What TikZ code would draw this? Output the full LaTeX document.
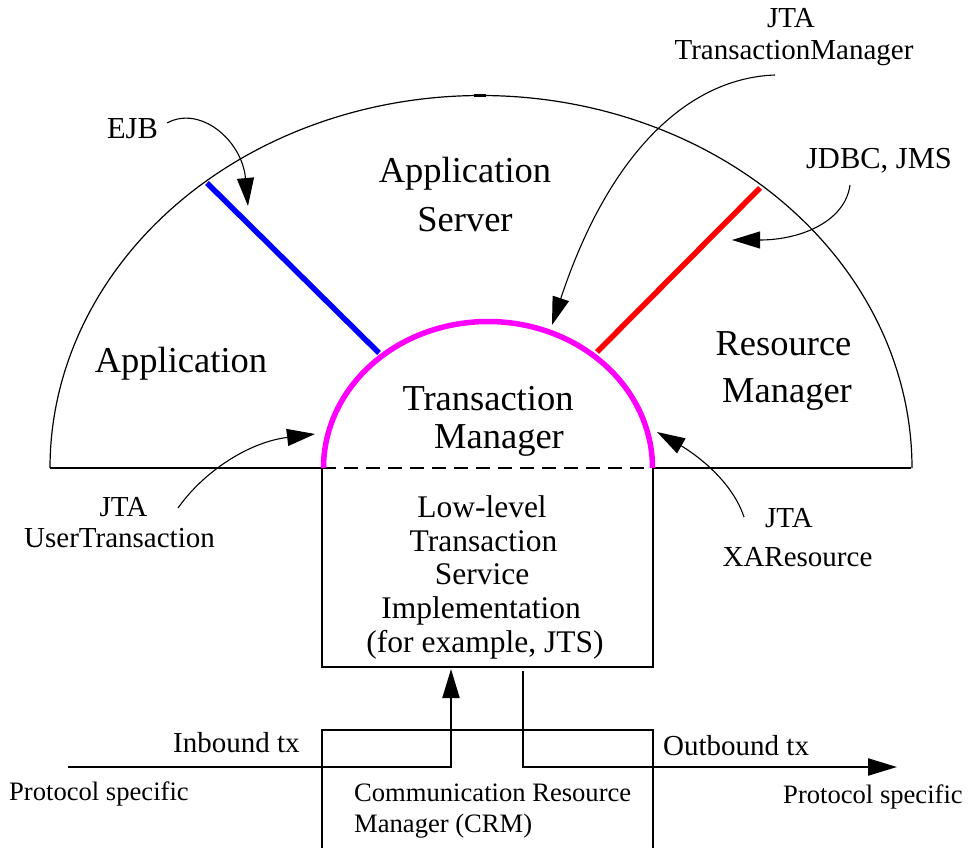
\documentclass[tikz,border=0pt]{standalone}
\usepackage{fontspec}
\setmainfont{Liberation Serif}
\usetikzlibrary{arrows.meta}
\definecolor{tmmag}{RGB}{255,0,255}
\definecolor{ejbblue}{RGB}{0,0,255}
\definecolor{rmred}{RGB}{255,0,0}
\begin{document}
\begin{tikzpicture}[x=1pt,y=-1pt,
  txt/.style={inner sep=0pt, anchor=base},
  big/.style={txt, font=\fontsize{36.5}{40}\selectfont},
  med/.style={txt, font=\fontsize{30.5}{34}\selectfont},
  lab/.style={txt, font=\fontsize{29}{33}\selectfont},
  boxt/.style={txt, font=\fontsize{31.5}{34}\selectfont},
  sm/.style={txt, anchor=base west, font=\fontsize{26.6}{30}\selectfont},
  thinline/.style={line width=1.2pt},
  thickline/.style={line width=2.2pt},
  arr/.style={line width=1.1pt, -{Triangle[length=28pt,width=17pt]}},
  barr/.style={line width=2.2pt, -{Triangle[length=29pt,width=17pt]}},
  band/.style={line width=5.5pt}
]
\useasboundingbox (0,0) rectangle (974,848);

% outer half ellipse (application server)
\draw[thinline] plot[domain=0:180, samples=181] ({481+431*cos(\x)}, {468-372.5*sin(\x)});
\draw[line width=2.6pt] (474,95.5) -- (486,95.5);

% base line and dashed separator
\draw[thickline] (50,468) -- (322,468);
\draw[thickline] (653,468) -- (911,468);
\draw[thickline, dash pattern=on 14pt off 8pt] (322,468) -- (653,468);

% coloured interfaces
\coordinate (ejbTop) at (207,183);
\coordinate (ejbBot) at (379,353);
\coordinate (rmTop) at (760,188);
\coordinate (rmBot) at (597,352);
\draw[band, ejbblue] (ejbTop) -- (ejbBot);
\draw[band, rmred] (rmTop) -- (rmBot);
\draw[band, tmmag] plot[domain=0:180, samples=181] ({488+164.5*cos(\x)}, {468-146.5*sin(\x)});

% low-level box
\draw[thickline] (322,468) -- (322,667) -- (653,667) -- (653,468);
% CRM box
\draw[thickline] (322,848) -- (322,730) -- (653,730) -- (653,848);

% region labels
\node[big] (app) at (181,372) {Application};
\node[big] (as1) at (465,182) {Application};
\node[big] (as2) at (465,231) {Server};
\node[big] (tm1) at (488,410) {Transaction};
\node[big] (tm2) at (499,448) {Manager};
\node[big] (rm1) at (783.5,355) {Resource};
\node[big] (rm2) at (787,402) {Manager};

% interface labels
\node[med] (ejb) at (132.5,139) {EJB};
\node[lab] (jtm1) at (791,28) {JTA};
\node[lab] (jtm2) at (794,60) {TransactionManager};
\node[med] (jdbc) at (879,168) {JDBC, JMS};
\node[lab] (ut1) at (123.5,516) {JTA};
\node[lab] (ut2) at (119.5,547) {UserTransaction};
\node[lab] (xa1) at (789,527) {JTA};
\node[lab] (xa2) at (797.5,566) {XAResource};

% box text
\node[boxt] (ll1) at (482,517) {Low-level};
\node[boxt] (ll2) at (483.5,551) {Transaction};
\node[boxt] (ll3) at (482,584) {Service};
\node[boxt] (ll4) at (481,618) {Implementation};
\node[boxt] (ll5) at (485,652) {(for example, JTS)};

% bottom labels
\node[lab, anchor=base west] (inb) at (173,752) {Inbound tx};
\node[lab, anchor=base west] (outb) at (663,755) {Outbound tx};
\node[sm] (psl) at (9,800) {Protocol specific};
\node[sm] (psr) at (783,803) {Protocol specific};
\node[sm] (crm1) at (354,801) {Communication Resource};
\node[sm] (crm2) at (354,832) {Manager (CRM)};

% curved pointer arrows
\coordinate (ejbS) at (167,123);
\coordinate (ejbT) at (248,206);
\draw[arr] (ejbS) .. controls (200,105) and (242,140) .. (ejbT);
\coordinate (tmS) at (775,75);
\coordinate (tmT) at (552,325);
\draw[arr] (tmS) .. controls (690,78) and (610,150) .. (tmT);
\coordinate (jdS) at (850,185);
\coordinate (jdT) at (732,240);
\draw[arr] (jdS) .. controls (845,222) and (800,240) .. (jdT);
\coordinate (utS) at (178,508);
\coordinate (utT) at (315,434);
\draw[arr] (utS) .. controls (205,470) and (250,442) .. (utT);
\coordinate (xaS) at (744,517);
\coordinate (xaT) at (657,432);
\draw[arr] (xaS) .. controls (730,475) and (685,448) .. (xaT);

% inbound / outbound flows
\coordinate (inS) at (68,767);
\coordinate (inC) at (451,767);
\coordinate (inT) at (451,669);
\draw[barr] (inS) -- (inC) -- (inT);
\coordinate (outS) at (523,671);
\coordinate (outC) at (523,767);
\coordinate (outT) at (897,767);
\draw[barr] (outS) -- (outC) -- (outT);
\end{tikzpicture}
\end{document}
